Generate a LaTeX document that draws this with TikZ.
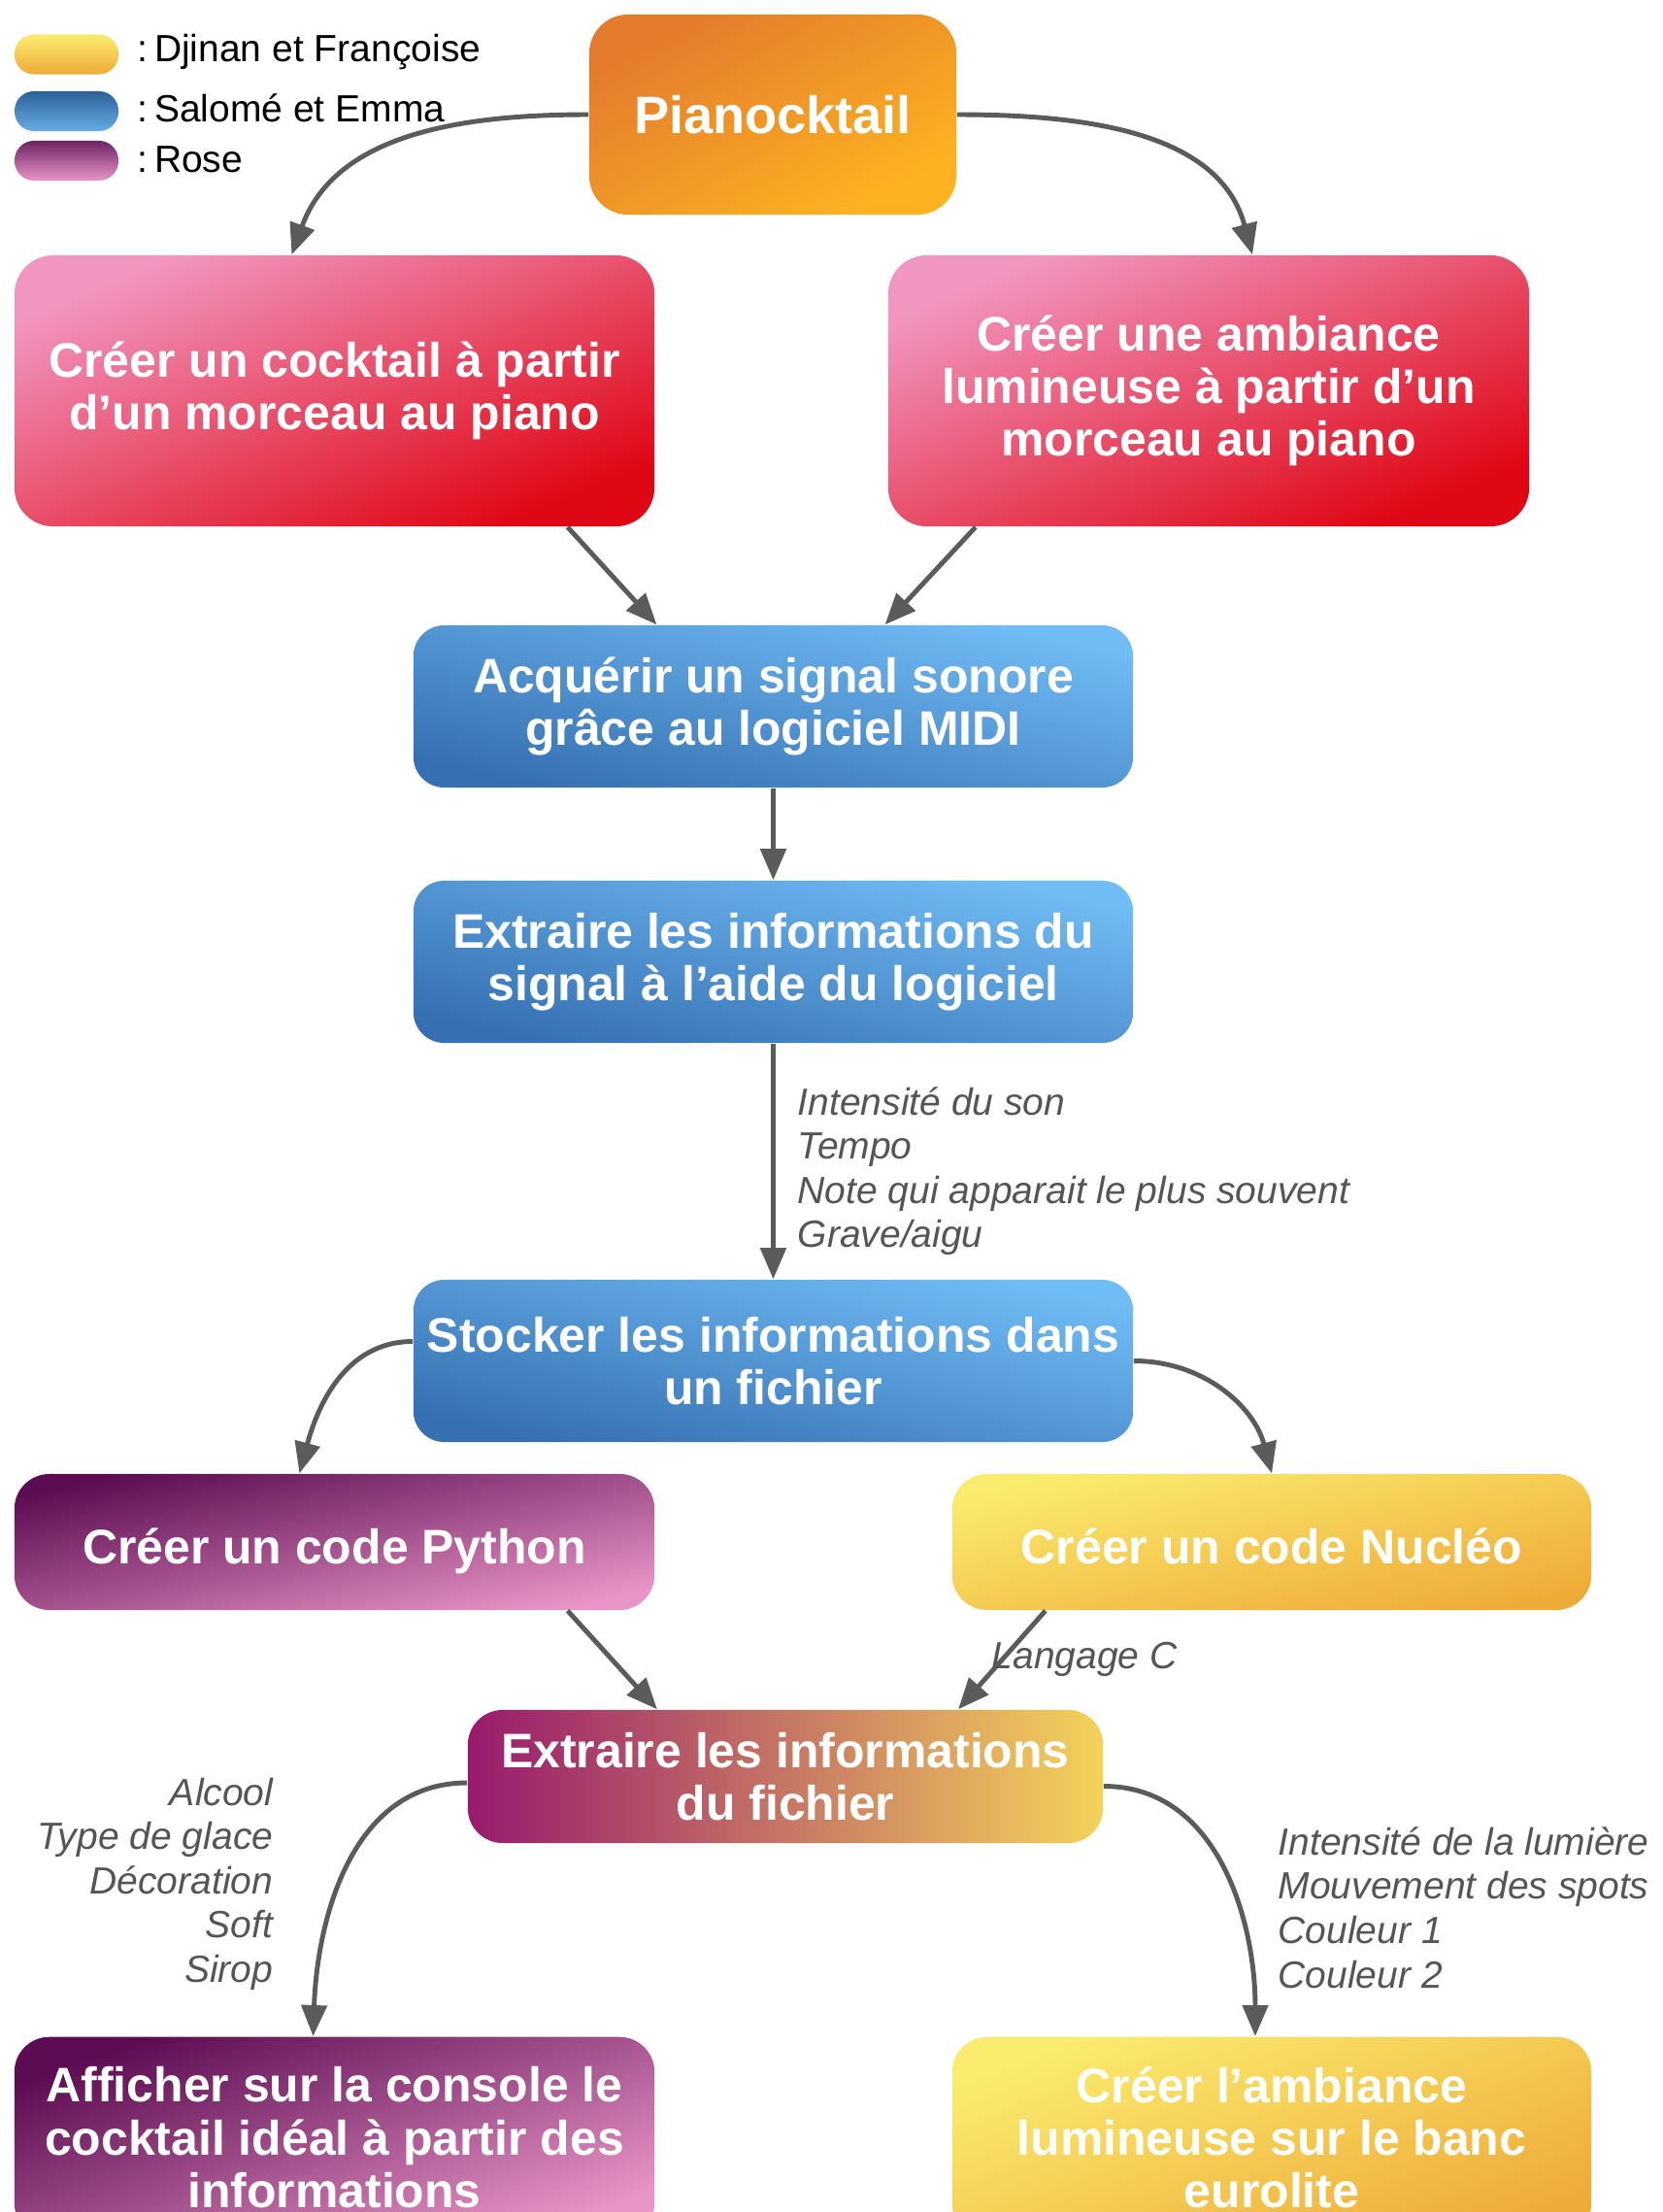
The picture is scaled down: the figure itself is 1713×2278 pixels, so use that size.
\documentclass[tikz,border=0pt]{standalone}
\usepackage{fontspec}
\setmainfont{Liberation Sans}
\usetikzlibrary{arrows.meta}

\definecolor{arrowgray}{HTML}{5B5B5B}
\definecolor{labelgray}{HTML}{555555}
\definecolor{pianotop}{HTML}{E37A2C}
\definecolor{pianobot}{HTML}{FDB321}
\definecolor{redtop}{HTML}{F196C0}
\definecolor{redbot}{HTML}{E00715}
\definecolor{bluetop}{HTML}{70BCF5}
\definecolor{bluebot}{HTML}{3670B2}
\definecolor{purptop}{HTML}{5C0C52}
\definecolor{purpbot}{HTML}{E894C6}
\definecolor{yeltop}{HTML}{FAEC6E}
\definecolor{yelbot}{HTML}{EFAB38}
\definecolor{fileleft}{HTML}{981A6E}
\definecolor{fileright}{HTML}{F4D35A}

\newcommand\boxfont{\fontsize{14.2}{15.4}\selectfont\bfseries}
\newcommand\titlefont{\fontsize{15.4}{17}\selectfont\bfseries}
\newcommand\infofont{\fontsize{11.1}{12.95}\selectfont\itshape}
\newcommand\legendfont{\fontsize{11.1}{12.95}\selectfont}

\begin{document}
\begin{tikzpicture}[x=0.01cm, y=-0.01cm,
    box/.style={rounded corners=0.4cm, align=center, text=white, inner sep=0pt, font=\boxfont},
    orangebox/.style={box, top color=pianotop, bottom color=pianobot, shading angle=29},
    redbox/.style={box, top color=redtop, bottom color=redbot, shading angle=23},
    bluebox/.style={box, rounded corners=0.32cm, top color=bluetop, bottom color=bluebot, shading angle=-13},
    purplebox/.style={box, top color=purptop, bottom color=purpbot, shading angle=#1},
    purplebox/.default=12,
    yellowbox/.style={box, top color=yeltop, bottom color=yelbot, shading angle=#1},
    yellowbox/.default=12,
    oneline/.style={align=none, text height=13pt, text depth=0pt},
    link/.style={draw=arrowgray, line width=1.4pt, -{Triangle[length=0.32cm, width=0.26cm]}},
    info/.style={text=labelgray, font=\infofont, inner sep=0pt},
    pill/.style={rounded corners=0.2cm, minimum width=1.07cm, minimum height=0.41cm, inner sep=0pt, shading angle=21}
  ]
  \useasboundingbox (0,0) rectangle (1713,2278);
  \clip (0,0) rectangle (1713,2278);

  % Legend
  \node[pill, top color=yeltop, bottom color=yelbot] (legyel) at (68.5,56) {};
  \node[pill, top color=bluebot!85!black, bottom color=bluetop!80!bluebot] (legblue) at (68.5,114.5) {};
  \node[pill, top color=purptop!90, bottom color=purpbot] (legpurp) at (68.5,165.5) {};
  \node[anchor=west, font=\legendfont, inner sep=0pt] (legyeltxt) at (141,53) {:\,Djinan et Françoise};
  \node[anchor=west, font=\legendfont, inner sep=0pt] (legbluetxt) at (141,111) {:\,Salomé et Emma};
  \node[anchor=west, font=\legendfont, inner sep=0pt] (legpurptxt) at (141,164) {:\,Rose};

  % Boxes
  \node[orangebox, font=\titlefont, minimum width=3.78cm, minimum height=2.06cm] (piano) at (796,118) {Pianocktail};
  \node[redbox, minimum width=6.59cm, minimum height=2.79cm] (cocktail) at (344.5,402.5) {Créer un cocktail à partir\\d’un morceau au piano};
  \node[redbox, minimum width=6.60cm, minimum height=2.79cm] (ambiance) at (1245,402.5) {Créer une ambiance\\lumineuse à partir d’un\\morceau au piano};
  \node[bluebox, minimum width=7.41cm, minimum height=1.67cm] (acquire) at (796.5,727.5) {Acquérir un signal sonore\\grâce au logiciel MIDI};
  \node[bluebox, minimum width=7.41cm, minimum height=1.67cm] (extract) at (796.5,990.5) {Extraire les informations du\\signal à l’aide du logiciel};
  \node[bluebox, minimum width=7.41cm, minimum height=1.67cm] (store) at (796.5,1401.5) {Stocker les informations dans\\un fichier};
  \node[purplebox, oneline, rounded corners=0.36cm, minimum width=6.59cm, minimum height=1.40cm] (python) at (344.5,1588) {Créer un code Python};
  \node[yellowbox, oneline, rounded corners=0.36cm, minimum width=6.58cm, minimum height=1.40cm] (nucleo) at (1310,1588) {Créer un code Nucléo};
  \node[box, rounded corners=0.36cm, left color=fileleft, right color=fileright, minimum width=6.54cm, minimum height=1.37cm] (readfile) at (809,1829.5) {Extraire les informations\\du fichier};
  \node[purplebox=20, rounded corners=0.36cm, anchor=north, minimum width=6.59cm, inner ysep=0.31cm] (display) at (344.5,2097) {Afficher sur la console le\\cocktail idéal à partir des\\informations};
  \node[yellowbox=20, rounded corners=0.36cm, anchor=north, minimum width=6.58cm, inner ysep=0.31cm] (lights) at (1310,2097) {Créer l’ambiance\\lumineuse sur le banc\\eurolite};

  % Connectors
  \draw[link] (piano.west) to[out=180, in=70] ([xshift=-0.44cm]cocktail.north);
  \draw[link] (piano.east) to[out=0, in=105] ([xshift=0.45cm]ambiance.north);
  \draw[link] ([xshift=2.4cm]cocktail.south) -- ([xshift=-1.2cm]acquire.north);
  \draw[link] ([xshift=-2.4cm]ambiance.south) -- ([xshift=1.15cm]acquire.north);
  \draw[link] (acquire.south) -- (extract.north);
  \draw[link] (extract.south) -- (store.north);
  \draw[link] ([yshift=0.2cm]store.west) to[out=180, in=75] ([xshift=-0.36cm]python.north);
  \draw[link] (store.east) to[out=0, in=105] (nucleo.north);
  \draw[link] ([xshift=2.4cm]python.south) -- ([xshift=-1.32cm]readfile.north);
  \draw[link] ([xshift=-2.33cm]nucleo.south) -- ([xshift=1.78cm]readfile.north);
  \draw[link] ([yshift=-0.065cm]readfile.west) to[out=180, in=88] ([xshift=-0.22cm]display.north);
  \draw[link] ([yshift=-0.1cm]readfile.east) to[out=0, in=90] ([xshift=-0.17cm]lights.north);

  % Labels
  \node[info, anchor=west, align=left] (sound) at (821,1206) {Intensité du son\\Tempo\\Note qui apparait le plus souvent\\Grave/aigu};
  \node[info, anchor=west] (langc) at (1021,1709) {Langage C};
  \node[info, anchor=east, align=right] (drink) at (282,1940) {Alcool\\Type de glace\\Décoration\\Soft\\Sirop};
  \node[info, anchor=west, align=left] (light) at (1316,1964.5) {Intensité de la lumière\\Mouvement des spots\\Couleur 1\\Couleur 2};
\end{tikzpicture}
\end{document}
